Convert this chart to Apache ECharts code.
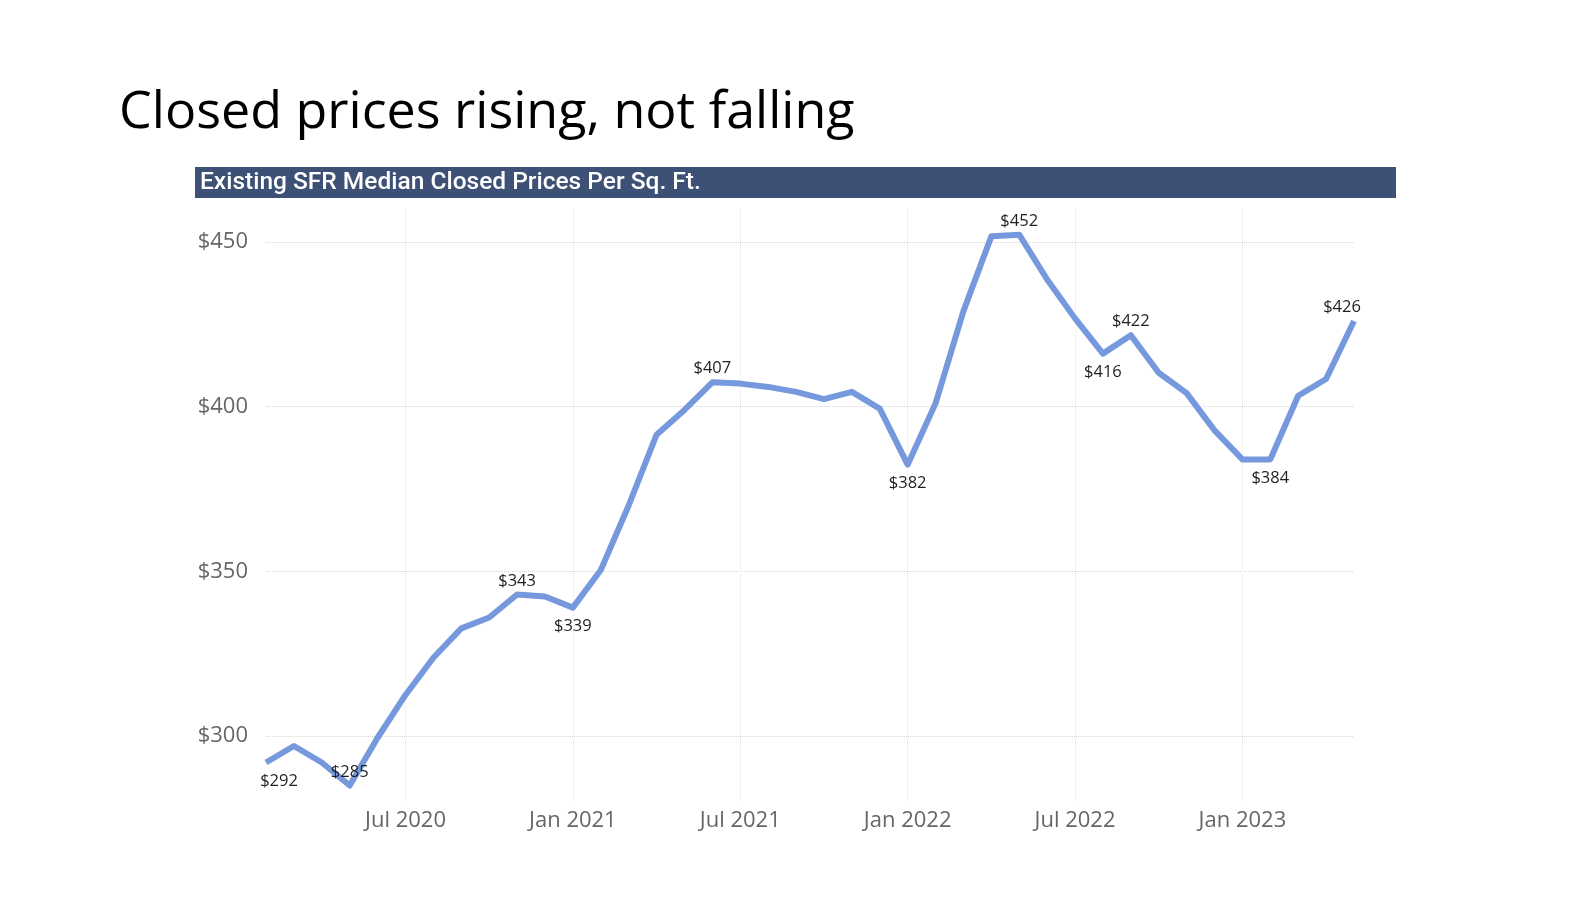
<!DOCTYPE html>
<html>
	<head>
		<meta charset="utf-8">
		<title>Closed prices rising, not falling</title>
		<script src="https://cdn.jsdelivr.net/npm/echarts@6/dist/echarts.min.js"></script>
		<style>
			html, body { margin: 0; padding: 0; background: #fff; }
			#main { width: 1596px; height: 898px; }
		</style>
	</head>
	<body>
		<div id="main"></div>
		<script type="text/javascript">
			// months shown on the x axis (Feb 2020 - May 2023)
			var months = [
				'Feb 2020', 'Mar 2020', 'Apr 2020', 'May 2020', 'Jun 2020', 'Jul 2020', 'Aug 2020', 'Sep 2020', 'Oct 2020', 'Nov 2020', 'Dec 2020',
				'Jan 2021', 'Feb 2021', 'Mar 2021', 'Apr 2021', 'May 2021', 'Jun 2021', 'Jul 2021', 'Aug 2021', 'Sep 2021', 'Oct 2021', 'Nov 2021', 'Dec 2021',
				'Jan 2022', 'Feb 2022', 'Mar 2022', 'Apr 2022', 'May 2022', 'Jun 2022', 'Jul 2022', 'Aug 2022', 'Sep 2022', 'Oct 2022', 'Nov 2022', 'Dec 2022',
				'Jan 2023', 'Feb 2023', 'Mar 2023', 'Apr 2023', 'May 2023'
			];
			// median closed price per sq. ft. ($)
			var prices = [
				292, 297, 292, 285, 299.5, 312.5, 323.8, 332.7, 336, 343, 342.4,
				339, 350.4, 370, 391.5, 399, 407.4, 407, 406, 404.5, 402.3, 404.5, 399.4,
				382.4, 401, 429, 451.7, 452.2, 438.6, 426.8, 416.1, 421.7, 410.3, 404.1, 392.8,
				384, 384, 403.3, 408.4, 426
			];
			var yTicks = [300, 350, 400, 450];

			// which points get a data label, and on which side
			var labelAt = {
				'Feb 2020': { position: 'bottom', distance: 10, offset: [13, 0] },
				'May 2020': { position: 'top', distance: 5 },
				'Nov 2020': { position: 'top', distance: 5 },
				'Jan 2021': { position: 'bottom', distance: 10 },
				'Jun 2021': { position: 'top', distance: 5 },
				'Jan 2022': { position: 'bottom', distance: 10 },
				'May 2022': { position: 'top', distance: 5 },
				'Aug 2022': { position: 'bottom', distance: 10 },
				'Sep 2022': { position: 'top', distance: 5 },
				'Feb 2023': { position: 'bottom', distance: 10 },
				'May 2023': { position: 'top', distance: 5, offset: [-12, 0] }
			};

			var seriesData = [];
			for (var i = 0; i < prices.length; i++) {
				var item = { value: prices[i] };
				var lb = labelAt[months[i]];
				if (lb) {
					item.label = {
						show: true,
						position: lb.position,
						distance: lb.distance,
						offset: lb.offset || [0, 0]
					};
				}
				seriesData.push(item);
			}

			function isTickMonth(name) {
				return name.indexOf('Jan') === 0 || name.indexOf('Jul') === 0;
			}

			var chart = echarts.init(document.getElementById('main'));
			var option = {
				animation: false,
				backgroundColor: '#ffffff',
				graphic: [
					{
						type: 'text',
						left: 119,
						top: 87,
						style: {
							text: 'Closed prices rising, not falling',
							font: '52px "Open Sans"',
							fill: '#000000'
						}
					},
					{
						type: 'rect',
						shape: { x: 195, y: 167, width: 1201, height: 31 },
						style: { fill: '#3d5075' }
					},
					{
						type: 'text',
						x: 200,
						y: 183,
						style: {
							text: 'Existing SFR Median Closed Prices Per Sq. Ft.',
							font: '500 24.5px Roboto',
							fill: '#ffffff',
							verticalAlign: 'middle'
						}
					}
				],
				grid: {
					left: 266,
					right: 242,
					top: 209,
					bottom: 96,
					containLabel: false
				},
				xAxis: {
					type: 'category',
					data: months,
					boundaryGap: false,
					axisLine: { show: false },
					axisTick: { show: false },
					axisLabel: {
						interval: function (index, value) { return isTickMonth(value); },
						color: '#666666',
						fontSize: 22,
						fontFamily: 'Open Sans',
						margin: 8
					},
					splitLine: {
						show: true,
						interval: function (index, value) { return isTickMonth(value); },
						lineStyle: { color: '#e6e6e6', type: 'dotted', width: 1 }
					}
				},
				yAxis: {
					type: 'value',
					min: 280,
					max: 460,
					axisLine: { show: false },
					axisTick: { show: false, customValues: yTicks },
					axisLabel: {
						customValues: yTicks,
						formatter: function (v) { return '$' + v; },
						color: '#666666',
						fontSize: 22,
						fontFamily: 'Open Sans',
						margin: 18
					},
					splitLine: {
						show: true,
						lineStyle: { color: '#d6d6d6', type: 'dotted', width: 1 }
					}
				},
				series: [{
					name: 'Median Closed Price Per Sq. Ft.',
					type: 'line',
					data: seriesData,
					showSymbol: true,
					symbol: 'circle',
					symbolSize: 0,
					lineStyle: { color: '#7698dc', width: 6, join: 'round' },
					itemStyle: { color: '#7698dc' },
					label: {
						show: false,
						formatter: function (p) { return '$' + Math.round(p.value); },
						color: '#1f1f1f',
						fontSize: 16.5,
						fontFamily: 'Open Sans'
					}
				}]
			};
			chart.setOption(option);
		</script>
	</body>
</html>
